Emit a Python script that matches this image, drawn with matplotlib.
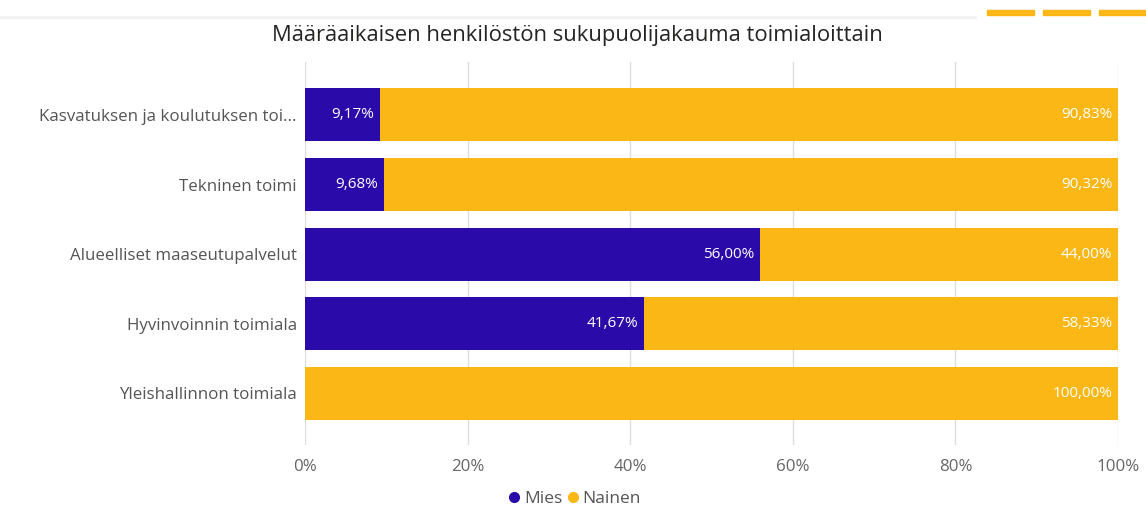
import matplotlib
matplotlib.use("Agg")
import matplotlib.pyplot as plt
from matplotlib.patches import Rectangle
from matplotlib.lines import Line2D

categories = ["Kasvatuksen ja koulutuksen toi...", "Tekninen toimi", "Alueelliset maaseutupalvelut",
              "Hyvinvoinnin toimiala", "Yleishallinnon toimiala"]
mies = [9.17, 9.68, 56.00, 41.67, 0.0]
nainen = [90.83, 90.32, 44.00, 58.33, 100.00]
xticks = [0, 20, 40, 60, 80, 100]
xticklabels = ["0%", "20%", "40%", "60%", "80%", "100%"]
title = "Määräaikaisen henkilöstön sukupuolijakauma toimialoittain"
series_names = ["Mies", "Nainen"]

c_mies = "#2a0aa8"
c_nainen = "#fbb715"
font = "Open Sans"
plt.rcParams['font.family'] = [font, 'DejaVu Sans']

fig = plt.figure(figsize=(11.46, 5.12), dpi=100)
ax = fig.add_axes([305/1146, 1-445/512, (1118-305)/1146, (445-62)/512])

y = list(range(len(categories)))
ax.barh(y, mies, height=0.76, color=c_mies, zorder=3)
ax.barh(y, nainen, left=mies, height=0.76, color=c_nainen, zorder=3)

def fmt(v):
    return f"{v:.2f}%".replace(".", ",")

for i in y:
    if mies[i] > 0:
        ax.text(mies[i] - 0.7, i, fmt(mies[i]), ha="right", va="center", color="white", fontsize=11, zorder=4)
    if nainen[i] > 0:
        ax.text(mies[i] + nainen[i] - 0.7, i, fmt(nainen[i]), ha="right", va="center", color="white", fontsize=11, zorder=4)

ax.set_xlim(0, 100)
ax.set_ylim(4.74, -0.76)
ax.set_yticks(y)
ax.set_yticklabels(categories, fontsize=12.2, color="#555555")
ax.set_xticks(xticks)
ax.set_xticklabels(xticklabels, fontsize=12.2, color="#666666")
ax.tick_params(axis="both", length=0)
ax.tick_params(axis="y", pad=6)
ax.tick_params(axis="x", pad=10)
ax.grid(axis="x", color="#dddddd", linewidth=1, zorder=0)
for s in ax.spines.values():
    s.set_visible(False)

fig.text(577/1146, 1-36/512, title, ha="center", va="center", fontsize=15.8, color="#252423")

handles = [Line2D([0], [0], marker="o", linestyle="", markersize=7, color=c_mies),
           Line2D([0], [0], marker="o", linestyle="", markersize=7, color=c_nainen)]
fig.legend(handles, series_names, loc="center", bbox_to_anchor=(571/1146, 1-499/512), ncol=2,
           frameon=False, fontsize=12.5, handletextpad=-0.2, columnspacing=-0.15, handlelength=1.5,
           labelcolor="#555555")

# decorative header elements
fig.add_artist(Line2D([0, 975/1146], [1-17/512, 1-17/512], transform=fig.transFigure,
                      color="#f2f2f2", linewidth=2))
for x0 in [987, 1043, 1099]:
    fig.patches.append(Rectangle((x0/1146, 1-15/512), 47/1146, 5/512, transform=fig.transFigure,
                                 color=c_nainen, zorder=5))

fig.savefig("out.png", dpi=100)
